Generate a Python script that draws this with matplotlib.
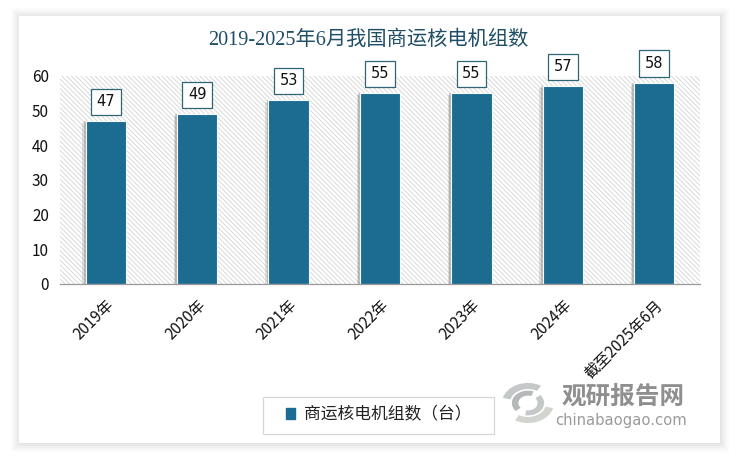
import matplotlib
matplotlib.use('Agg')
import matplotlib.pyplot as plt
import matplotlib.patches as mpatches
import matplotlib.patheffects as pe
from matplotlib.transforms import Affine2D

plt.rcParams['font.family'] = ['Noto Sans CJK SC', 'DejaVu Sans']
plt.rcParams['hatch.linewidth'] = 0.6

W, H = 738, 458

categories = ['2019年', '2020年', '2021年', '2022年', '2023年', '2024年', '截至2025年6月']
units = [47, 49, 53, 55, 55, 57, 58]
title = '2019-2025年6月我国商运核电机组数'
legend_label = '商运核电机组数（台）'
yticks = [0, 10, 20, 30, 40, 50, 60]

BAR_COLOR = '#1c6b91'
LABEL_EDGE = '#2f6577'
TITLE_COLOR = '#1f4e66'


def px_axes(fig, left, top, right, bottom):
    """Axes placed by pixel box (y measured from the top of the image)."""
    return fig.add_axes([left / W, 1 - bottom / H, (right - left) / W, (bottom - top) / H])


fig = plt.figure(figsize=(W / 100, H / 100), dpi=100, facecolor='white')

# ---------------------------------------------------------------------------
# Card with soft shadow, drawn in pixel coordinates
# ---------------------------------------------------------------------------
bg = fig.add_axes([0, 0, 1, 1], zorder=0)
bg.set_xlim(0, W)
bg.set_ylim(H, 0)
bg.axis('off')

for grow, shade in [(9, '#fbfbfb'), (7, '#f6f6f6'), (5, '#f0f0f0'), (3, '#e9e9e9'), (1, '#e3e3e3')]:
    bg.add_patch(mpatches.Rectangle((19 - grow + 1, 16 - grow + 1),
                                    701 + 2 * grow - 1, 427 + 2 * grow - 1,
                                    fc=shade, ec='none'))
bg.add_patch(mpatches.Rectangle((19, 16), 701, 427, fc='white', ec='none'))

# legend frame
bg.add_patch(mpatches.Rectangle((263, 397), 231, 37, fc='white', ec='#d6d6d6', lw=0.9))

# logo, rough swirl of grey arcs
for r, w, a1, a2, col in [
    (1.0, 0.30, 195, 300, '#c4c8c8'),
    (1.0, 0.30, 15, 120, '#d2d4cf'),
    (0.62, 0.25, 140, 290, '#b4b8b8'),
    (0.62, 0.25, 320, 100, '#c4c8c8'),
]:
    wedge = mpatches.Wedge((0, 0), r, a1, a2, width=w, fc=col, ec='none')
    wedge.set_transform(Affine2D().scale(26, 20).translate(528, 403) + bg.transData)
    bg.add_patch(wedge)
bg.text(623.5, 397, '观研报告网', fontsize=17.7, fontweight='black', color='#8f8f8f',
        ha='center', va='center')
bg.text(620.5, 421, 'chinabaogao.com', fontsize=10.6, color='#9a9a9a',
        family='DejaVu Sans', ha='center', va='center')

# ---------------------------------------------------------------------------
# Bars
# ---------------------------------------------------------------------------
ax = px_axes(fig, 60, 76, 700, 284)
ax.set_zorder(1)
ax.set_facecolor('white')
ax.set_xlim(-0.5, len(categories) - 0.5)
ax.set_ylim(0, 60)

ax.patch.set_edgecolor('#d4d4d4')
ax.patch.set_hatch('\\\\\\\\\\\\\\')
ax.patch.set_linewidth(0)

bars = ax.bar(range(len(categories)), units, width=0.44, color=BAR_COLOR,
              edgecolor='#f4fbfb', linewidth=0.8, zorder=3, label=legend_label)
for bar in bars:
    bar.set_path_effects([
        pe.SimplePatchShadow(offset=(-2.4, -1.2), shadow_rgbFace='#999999', alpha=0.3),
        pe.SimplePatchShadow(offset=(-1.4, 0.2), shadow_rgbFace='#777777', alpha=0.35),
        pe.Normal(),
    ])

for i, v in enumerate(units):
    ax.annotate(str(v), (i, v), xytext=(0, 14), textcoords='offset points',
                ha='center', va='center', fontsize=10.5, color='#111111', zorder=5,
                family='DejaVu Sans',
                bbox=dict(boxstyle='square,pad=0.38', fc='white', ec=LABEL_EDGE, lw=0.9))

for side in ['top', 'left', 'right']:
    ax.spines[side].set_visible(False)
ax.spines['bottom'].set_color('#9a9a9a')
ax.spines['bottom'].set_linewidth(0.9)
ax.spines['bottom'].set_zorder(4)

ax.set_yticks(yticks)
ax.set_xticks(range(len(categories)))
ax.set_xticklabels(categories, rotation=45, ha='right', rotation_mode='anchor')
ax.tick_params(axis='both', length=0, labelsize=11, labelcolor='#111111')
ax.tick_params(axis='y', pad=8)
ax.tick_params(axis='x', pad=9)

fig.text(368.5 / W, 1 - 40.5 / H, title, fontsize=14.6, color=TITLE_COLOR,
         ha='center', va='center', family=['Liberation Serif', 'Noto Sans CJK SC'])

legend_handle = mpatches.Patch(color=BAR_COLOR)
fig.legend(handles=[legend_handle], labels=[legend_label], loc='center',
           bbox_to_anchor=(378.5 / W, 1 - 415 / H), frameon=False, fontsize=12.1,
           handlelength=0.55, handleheight=0.55, handletextpad=0.5, labelcolor='#222222')

fig.savefig('out.png', dpi=100)
